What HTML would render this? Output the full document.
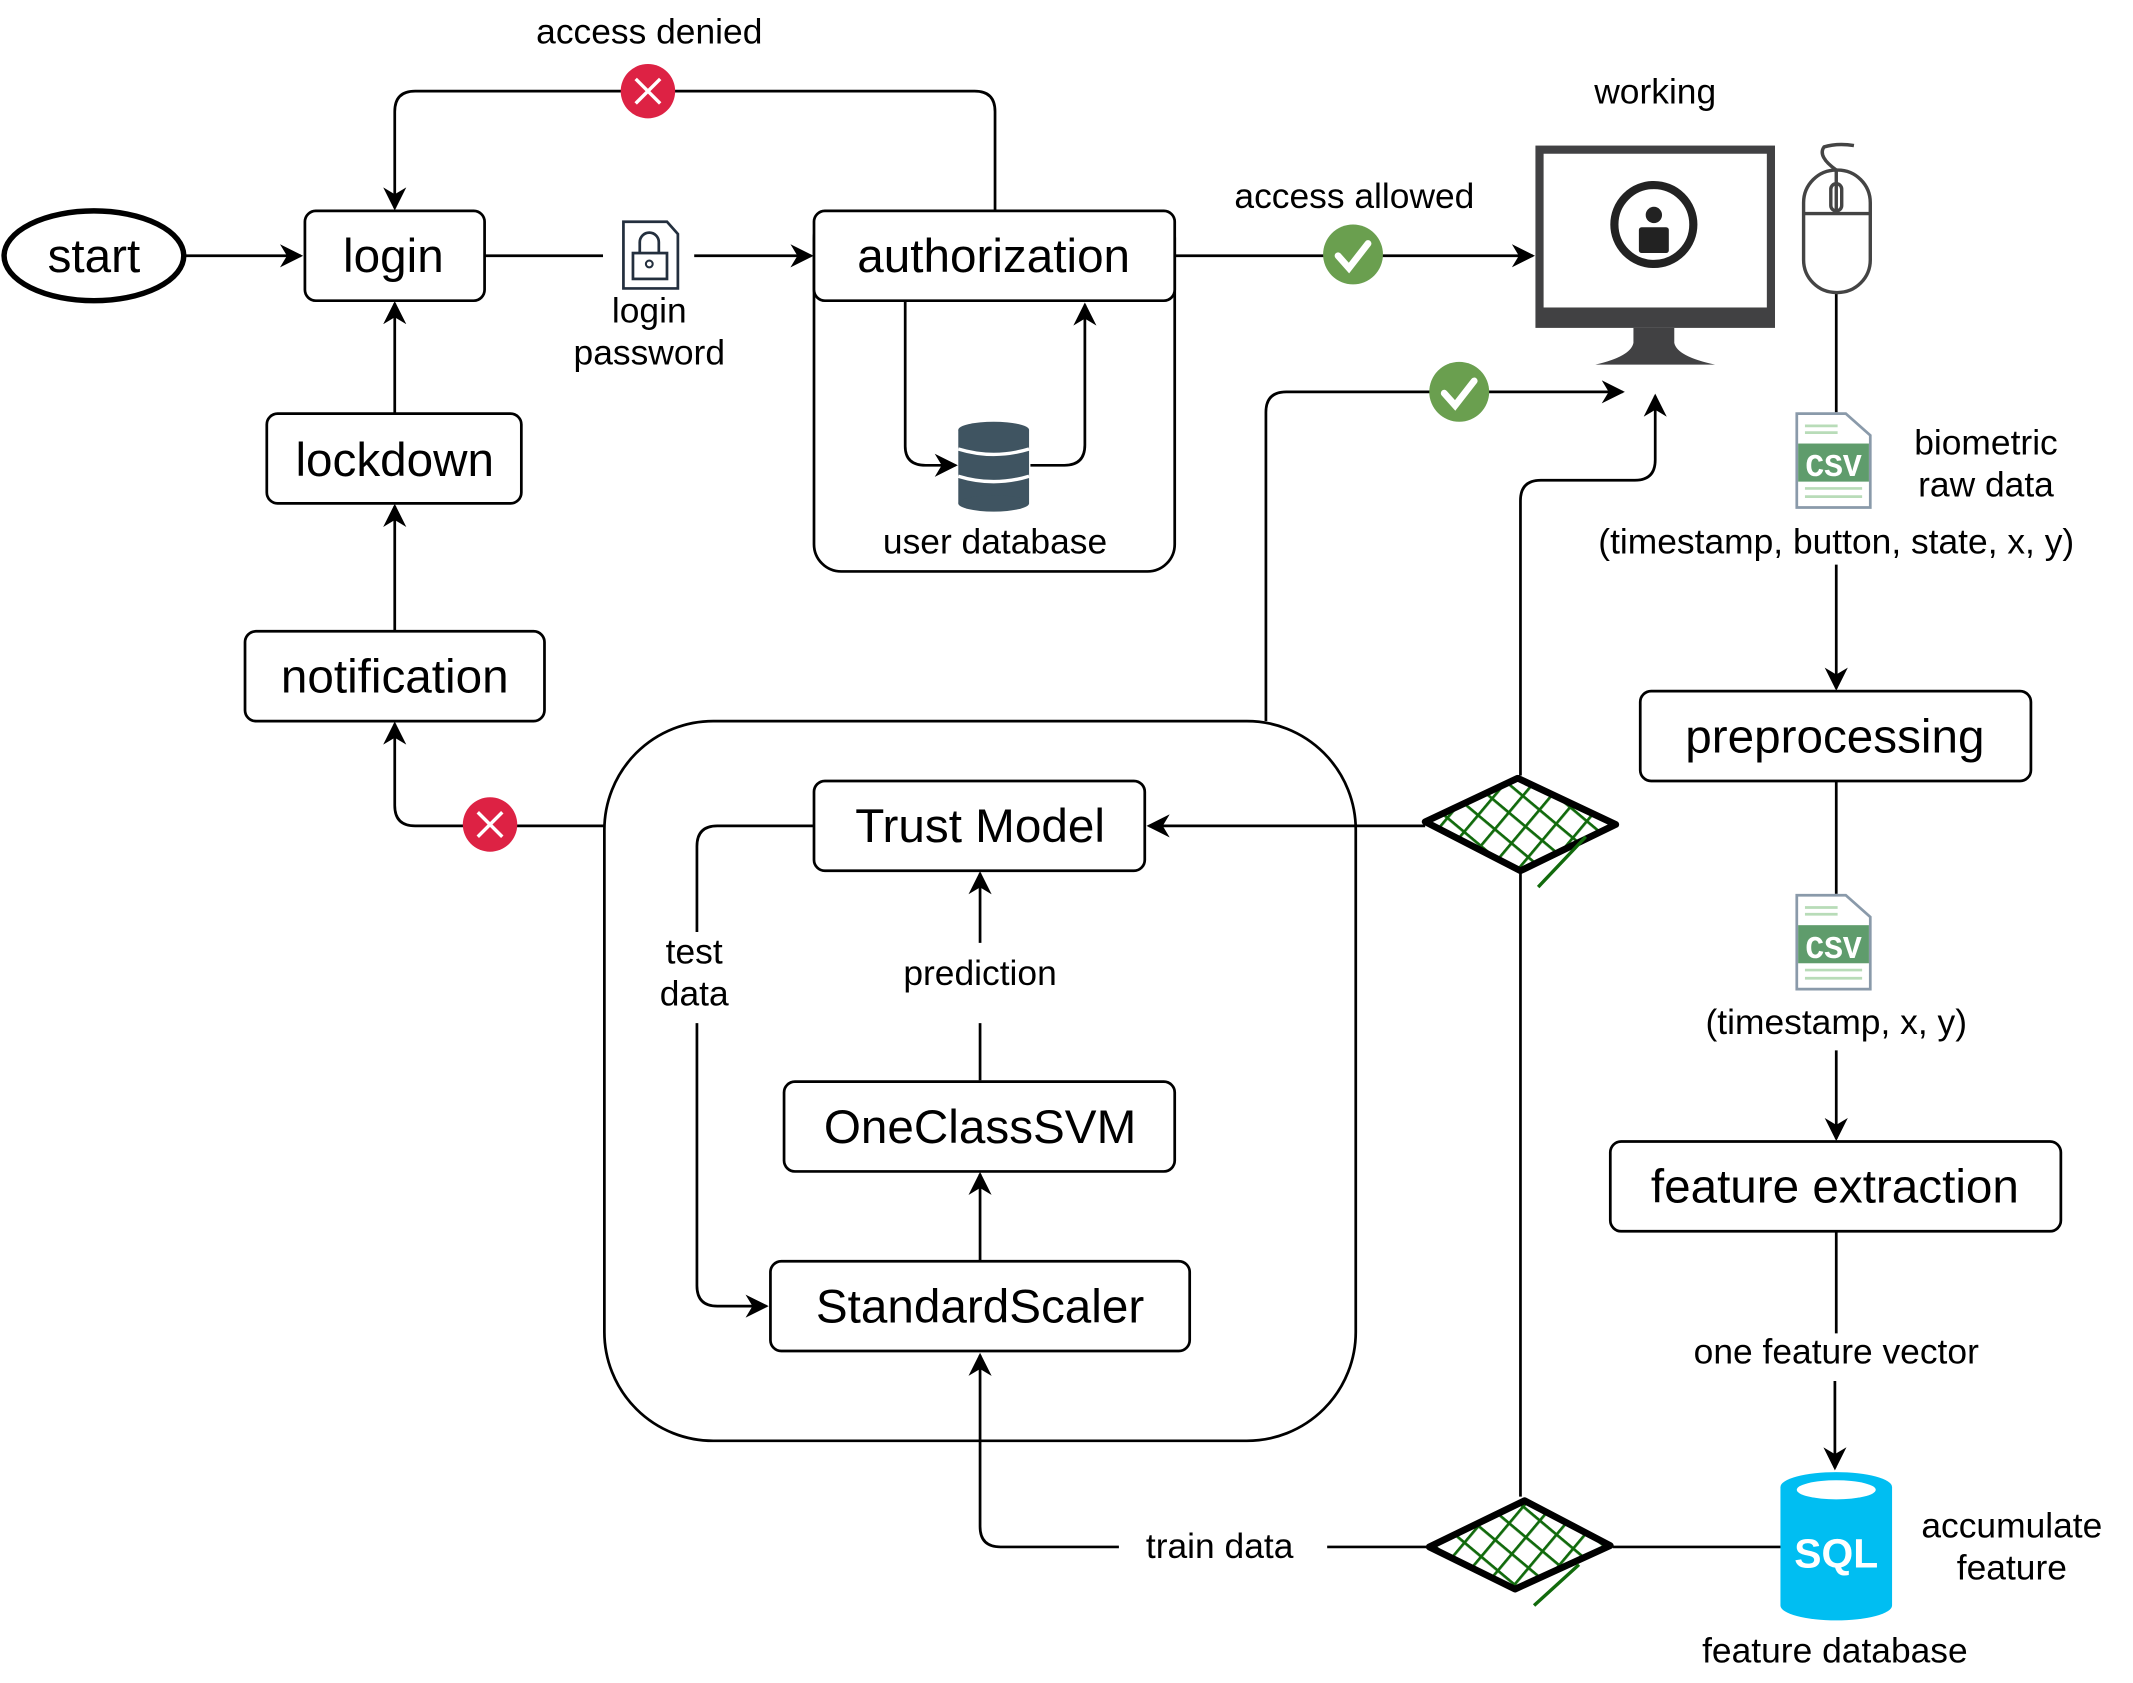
<!DOCTYPE html>
<html><head><meta charset="utf-8"><style>
html,body{margin:0;padding:0;background:#fff;}
svg{display:block;}
text{font-family:"Liberation Sans",sans-serif;fill:#000;text-anchor:middle;}
.b{font-size:35px;}
.s{font-size:26px;}
</style></head><body>
<svg width="2133" height="1683" viewBox="0 0 1567 1237" preserveAspectRatio="none" xmlns="http://www.w3.org/2000/svg">
<defs>
<marker id="a" viewBox="0 0 20 20" refX="18" refY="10" markerWidth="17" markerHeight="17" markerUnits="userSpaceOnUse" orient="auto">
<path d="M0,0 L20,10 L0,20 L6,10 Z" fill="#000"/></marker>
<pattern id="h" width="16" height="16" patternUnits="userSpaceOnUse" patternTransform="rotate(40)">
<rect width="16" height="16" fill="#fff"/><path d="M0,0 V16 M0,0 H16" stroke="#116a0c" stroke-width="4"/></pattern>
</defs>
<g fill="none" stroke="#000" stroke-width="2">
<path d="M136,188 H221" marker-end="url(#a)"/>
<path d="M356,188 H443"/><path d="M510,188 H596" marker-end="url(#a)"/>
<path d="M731,155 V82 Q731,67 716,67 H305 Q290,67 290,82 V153" marker-end="url(#a)"/>
<path d="M290,304 V223" marker-end="url(#a)"/>
<path d="M290,464 V372" marker-end="url(#a)"/>
<path d="M444,607 H305 Q290,607 290,592 V532" marker-end="url(#a)"/>
<path d="M863,188 H1126" marker-end="url(#a)"/>
<path d="M665,221 V328 Q665,342 680,342 H702" marker-end="url(#a)"/>
<path d="M757,342 H782 Q797,342 797,327 V224" marker-end="url(#a)"/>
<path d="M930,530 V303 Q930,288 945,288 H1192" marker-end="url(#a)"/>
<path d="M1117,570 V368 Q1117,353 1132,353 H1201 Q1216,353 1216,338 V291" marker-end="url(#a)"/>
<path d="M1349,215 V303"/>
<path d="M1349,415 V506" marker-end="url(#a)"/>
<path d="M1349,574 V657"/>
<path d="M1349,772 V837" marker-end="url(#a)"/>
<path d="M1349,905 V980"/>
<path d="M1348,1015 V1079" marker-end="url(#a)"/>
<path d="M1308,1137 H1185"/>
<path d="M1117,1100 V642"/>
<path d="M1047,607 H844" marker-end="url(#a)"/>
<path d="M1050,1137 H975"/>
<path d="M822,1137 H735 Q720,1137 720,1122 V996" marker-end="url(#a)"/>
<path d="M720,927 V863" marker-end="url(#a)"/>
<path d="M720,794 V752"/><path d="M720,693 V642" marker-end="url(#a)"/>
<path d="M598,607 H527 Q512,607 512,622 V685"/>
<path d="M512,752 V945 Q512,960 527,960 H563" marker-end="url(#a)"/>
<rect x="444" y="530" width="552" height="529" rx="80"/>
<rect x="224" y="155" width="132" height="66" rx="8" fill="#fff"/>
<rect x="196" y="304" width="187" height="66" rx="8" fill="#fff"/>
<rect x="180" y="464" width="220" height="66" rx="8" fill="#fff"/>
<rect x="598" y="155" width="265" height="265" rx="20"/>
<rect x="598" y="155" width="265" height="66" rx="8" fill="#fff"/>
<rect x="598" y="574" width="243" height="66" rx="8" fill="#fff"/>
<rect x="576" y="795" width="287" height="66" rx="8" fill="#fff"/>
<rect x="566" y="927" width="308" height="66" rx="8" fill="#fff"/>
<rect x="1205" y="508" width="287" height="66" rx="8" fill="#fff"/>
<rect x="1183" y="839" width="331" height="66" rx="8" fill="#fff"/>
<ellipse cx="69" cy="188" rx="66" ry="33" stroke-width="4" fill="#fff"/>
</g>
<g stroke="#000" stroke-width="5" stroke-linejoin="round">
<polygon points="1047,604 1115,572 1187,606 1117,640" fill="url(#h)"/>
<polygon points="1050,1137 1120,1103 1183,1136 1113,1168" fill="url(#h)"/>
</g>
<path d="M1130,652 L1165,615 M1127,1180 L1160,1150" stroke="#116a0c" stroke-width="2.5"/>
<circle cx="476" cy="67" r="20" fill="#dd2244"/>
<path d="M467,58 L485,76 M485,58 L467,76" stroke="#fff" stroke-width="2.5"/>
<circle cx="360" cy="606" r="20" fill="#dd2244"/>
<path d="M351,597 L369,615 M369,597 L351,615" stroke="#fff" stroke-width="2.5"/>
<circle cx="994" cy="187" r="22" fill="#6a9f4f"/>
<path d="M983,188 L991,197 L1005,179" stroke="#fff" stroke-width="5" fill="none" stroke-linecap="round"/>
<circle cx="1072" cy="288" r="22" fill="#6a9f4f"/>
<path d="M1061,289 L1069,298 L1083,280" stroke="#fff" stroke-width="5" fill="none" stroke-linecap="round"/>
<path d="M458,163 H490 L498,172 V212 H458 Z" fill="#fff" stroke="#232f3e" stroke-width="2"/>
<rect x="465" y="186" width="25" height="19" fill="none" stroke="#232f3e" stroke-width="2"/>
<path d="M470,186 V178 A7,7 0 0 1 484,178 V186" fill="none" stroke="#232f3e" stroke-width="2"/>
<circle cx="477" cy="194" r="2.5" fill="none" stroke="#232f3e" stroke-width="1.5"/>
<g fill="#3f5461">
<ellipse cx="730" cy="316" rx="26" ry="6"/>
<rect x="704" y="316" width="52" height="54"/>
<ellipse cx="730" cy="370" rx="26" ry="6"/>
</g>
<path d="M704,330 Q730,338 756,330 M704,350 Q730,358 756,350" stroke="#fff" stroke-width="2.5" fill="none"/>
<rect x="1128" y="107" width="176" height="134" fill="#414143"/>
<rect x="1134" y="113" width="164" height="113" fill="#fff"/>
<path d="M1200,241 H1230 V252 Q1232,262 1260,268 H1172 Q1198,262 1200,252 Z" fill="#414143"/>
<circle cx="1215" cy="165" r="29" fill="none" stroke="#222" stroke-width="6"/>
<circle cx="1215" cy="158" r="6" fill="#222"/>
<rect x="1204" y="167" width="22" height="19" rx="2" fill="#222"/>
<g fill="none" stroke="#444" stroke-width="2.5">
<rect x="1325" y="125" width="49" height="90" rx="24"/>
<path d="M1325,157 H1374 M1349,125 V157"/>
<rect x="1345" y="135" width="8" height="20" rx="4"/>
<path d="M1349,125 Q1335,115 1340,108 Q1350,105 1362,107"/>
</g>
<g id="csv">
<path d="M1320,304 H1356 L1374,320 V373 H1320 Z" fill="#fff" stroke="#8a9aaa" stroke-width="2"/>
<rect x="1321" y="326" width="52" height="28" fill="#5f9c6c"/>
<text x="1347" y="350" style="font-size:23px;font-weight:bold;fill:#fff;font-family:'Liberation Mono',monospace">CSV</text>
<path d="M1326,313 H1350 M1326,318 H1350 M1326,359 H1368 M1326,365 H1368" stroke="#b8dcb8" stroke-width="2"/>
</g>
<use href="#csv" y="354"/>
<path d="M1308,1093 A41,11 0 0 1 1390,1093 V1180 A41,11 0 0 1 1308,1180 Z" fill="#00bef2"/>
<ellipse cx="1349" cy="1095" rx="29" ry="7" fill="#fff"/>
<text x="1349" y="1152" style="font-size:30px;font-weight:bold;fill:#fff">SQL</text>
<text class="b" x="69" y="200">start</text>
<text class="b" x="289" y="200">login</text>
<text class="b" x="290" y="350">lockdown</text>
<text class="b" x="290" y="509">notification</text>
<text class="b" x="730" y="200">authorization</text>
<text class="b" x="720" y="619">Trust Model</text>
<text class="b" x="720" y="840">OneClassSVM</text>
<text class="b" x="720" y="972">StandardScaler</text>
<text class="b" x="1348" y="553">preprocessing</text>
<text class="b" x="1348" y="884">feature extraction</text>
<text class="s" x="477" y="32">access denied</text>
<text class="s" x="477" y="237">login</text>
<text class="s" x="477" y="268">password</text>
<text class="s" x="731" y="407">user database</text>
<text class="s" x="995" y="153">access allowed</text>
<text class="s" x="1216" y="76">working</text>
<text class="s" x="1459" y="334">biometric</text>
<text class="s" x="1459" y="365">raw data</text>
<text class="s" x="1349" y="407">(timestamp, button, state, x, y)</text>
<text class="s" x="1349" y="760">(timestamp, x, y)</text>
<text class="s" x="1349" y="1002">one feature vector</text>
<text class="s" x="1478" y="1130">accumulate</text>
<text class="s" x="1478" y="1161">feature</text>
<text class="s" x="1348" y="1222">feature database</text>
<text class="s" x="896" y="1145">train data</text>
<text class="s" x="720" y="724">prediction</text>
<text class="s" x="510" y="708">test</text>
<text class="s" x="510" y="739">data</text>
</svg>
</body></html>
